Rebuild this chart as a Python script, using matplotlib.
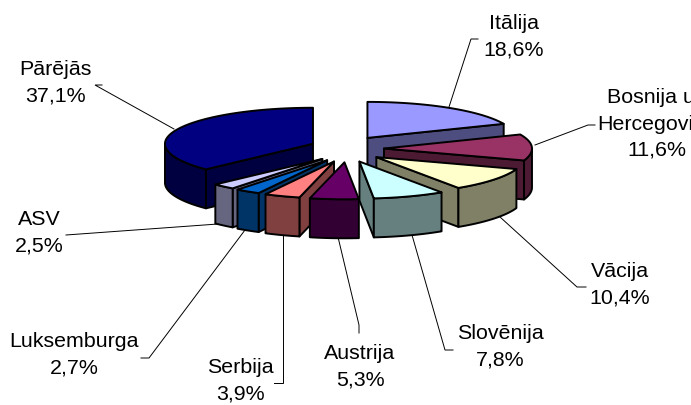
import numpy as np
import matplotlib
matplotlib.use("Agg")
import matplotlib.pyplot as plt
from matplotlib.patches import Polygon

# --- data ---
categories = ["Itālija", "Bosnija un\nHercegovina", "Vācija", "Slovēnija", "Austrija",
              "Serbija", "Luksemburga", "ASV", "Pārējās"]
values = [18.6, 11.6, 10.4, 7.8, 5.3, 3.9, 2.7, 2.5, 37.1]
top_colors = ["#9999FF", "#993366", "#FFFFCC", "#CCFFFF", "#660066",
              "#FF8080", "#0066CC", "#CCCCFF", "#000080"]
side_colors = ["#4D4D80", "#4D1A33", "#808066", "#668080", "#330033",
               "#804040", "#003366", "#666680", "#000040"]

# --- layout (pixels) ---
W, H = 691, 405
CX, CY = 347, 149      # pie centre
RX = 148               # horizontal radius
RY_BACK, RY_FRONT = 36, 37   # top ellipse radii, far and near half
DEPTH = 39             # extrusion height
EXPL = 37              # explosion distance
EXPL_Y = 0.36          # vertical squash of the explosion

label_centers = [(514, 37), (657, 124), (620, 285), (500, 347), (360, 367),
                 (240, 381), (74, 355), (39, 233), (55, 83)]
leaders = [
    [(478, 39), (471, 39), (449, 107)],
    [(595, 125), (588, 125), (535, 145)],
    [(586, 287), (577, 287), (500, 217)],
    [(453, 350), (445, 350), (412, 235)],
    [(359, 333), (359, 325), (338, 237)],
    [(274, 383), (283, 383), (283, 235)],
    [(141, 358), (149, 358), (245, 230)],
    [(66, 235), (218, 224)],
    [(102, 85), (95, 85), (174, 129)],
]

fig = plt.figure(figsize=(W / 100, H / 100), dpi=100)
ax = fig.add_axes([0, 0, 1, 1])
ax.set_xlim(0, W)
ax.set_ylim(H, 0)
ax.axis("off")

vals = np.array(values, dtype=float)
edges = np.concatenate([[0], np.cumsum(vals) / vals.sum() * 2 * np.pi])
LW = 1.4


def rim_point(ax0, ay0, th):
    c = np.cos(th)
    return ax0 + RX * np.sin(th), ay0 - np.where(c > 0, RY_BACK, RY_FRONT) * c


def face(pts, color, z):
    ax.add_patch(Polygon(pts, closed=True, facecolor=color, edgecolor="black",
                         linewidth=LW, joinstyle="round", zorder=z))


mids = (edges[:-1] + edges[1:]) / 2
order = np.argsort(-np.cos(mids))

for rank, i in enumerate(order):
    t0, t1, m = edges[i], edges[i + 1], mids[i]
    apex_x = CX + EXPL * np.sin(m)
    apex_y = CY - EXPL * EXPL_Y * np.cos(m)
    z = 3 + rank
    # visible radial side faces
    for th, visible in ((t0, np.sin(t0) < -1e-6), (t1, np.sin(t1) > 1e-6)):
        if visible:
            px, py = rim_point(apex_x, apex_y, th)
            face([(apex_x, apex_y), (px, py), (px, py + DEPTH), (apex_x, apex_y + DEPTH)],
                 side_colors[i], z)
    # visible outer rim
    a, b = max(t0, np.pi / 2), min(t1, 3 * np.pi / 2)
    if b > a:
        ts = np.linspace(a, b, 60)
        xs, ys = rim_point(apex_x, apex_y, ts)
        pts = list(zip(xs, ys)) + list(zip(xs[::-1], ys[::-1] + DEPTH))
        face(pts, side_colors[i], z)
    # top
    ts = np.linspace(t0, t1, 120)
    xs, ys = rim_point(apex_x, apex_y, ts)
    face([(apex_x, apex_y)] + list(zip(xs, ys)), top_colors[i], z)

# leaders and labels
for name, v, (lx, ly), path in zip(categories, values, label_centers, leaders):
    p = np.array(path)
    ax.plot(p[:, 0], p[:, 1], color="black", lw=0.7, zorder=2, solid_joinstyle="miter")
    txt = f"{name}\n{v:.1f}".replace(".", ",") + "%"
    ax.text(lx, ly, txt, ha="center", va="center", multialignment="center",
            family="Liberation Sans", fontsize=15.4, color="black", linespacing=1.47,
            zorder=20)

fig.savefig("out.png", dpi=100, facecolor="white")
